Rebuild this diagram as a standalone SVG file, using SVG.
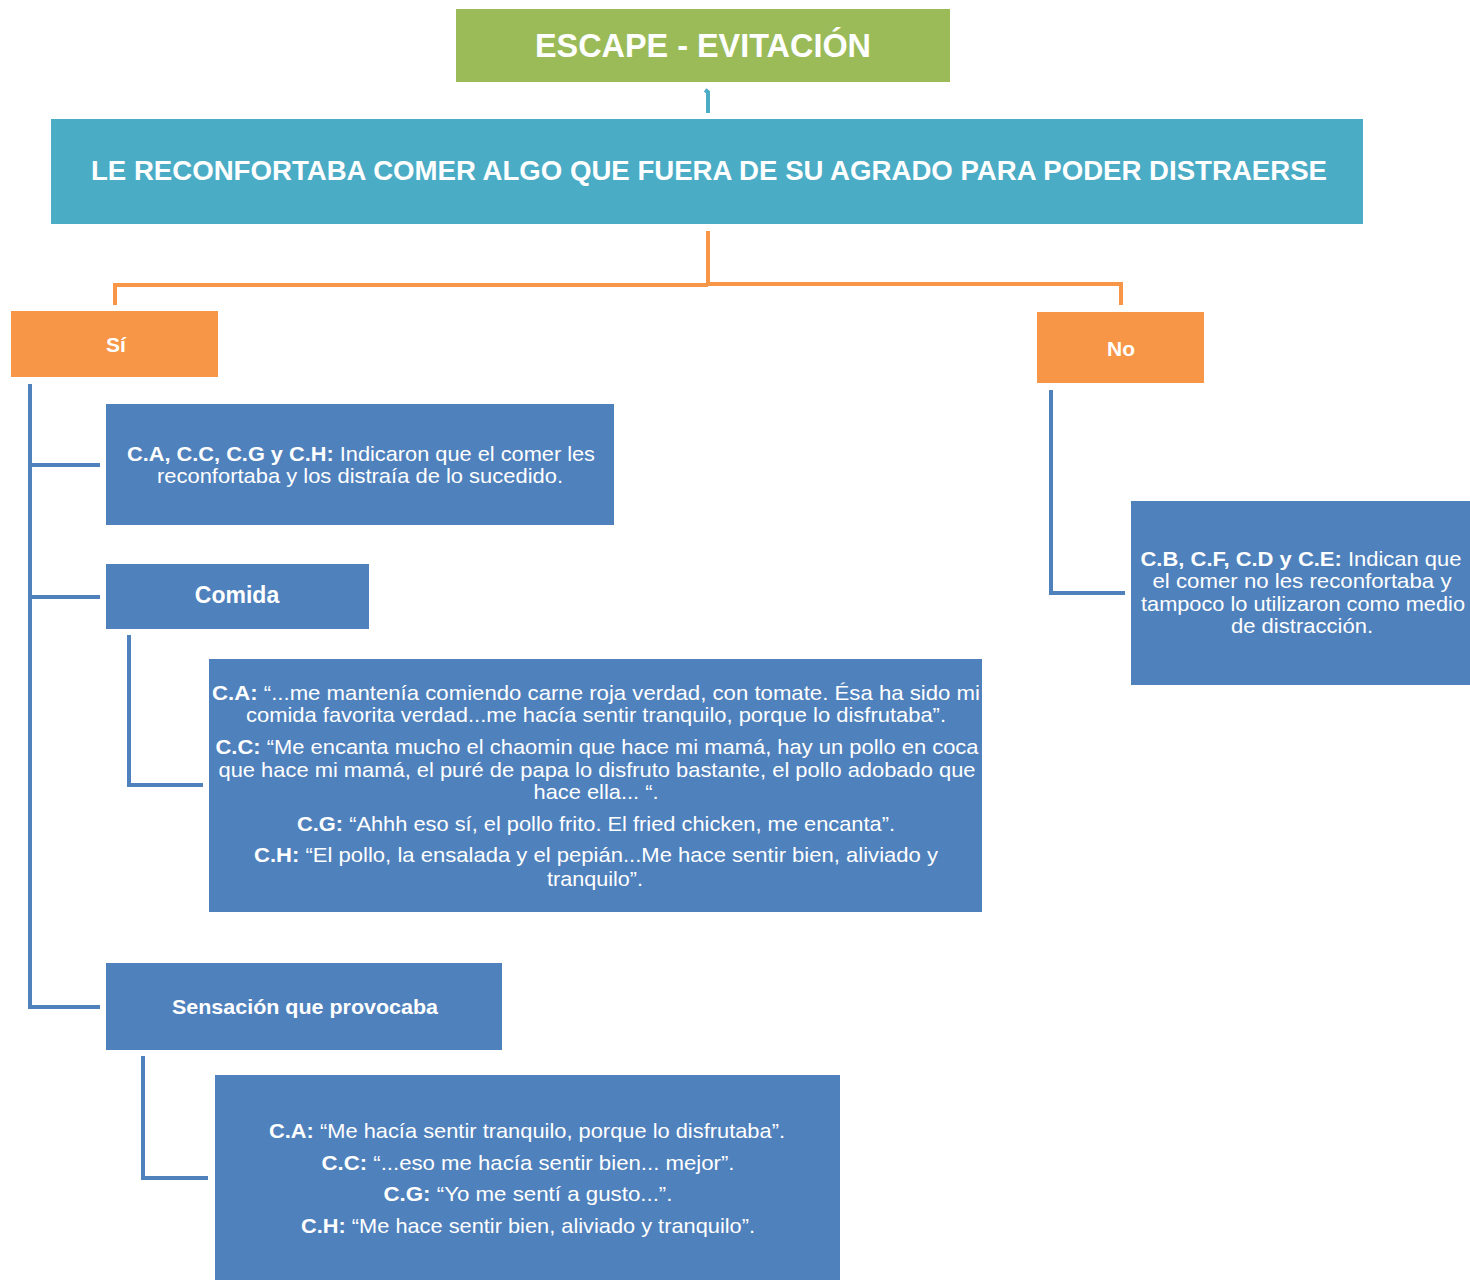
<svg xmlns="http://www.w3.org/2000/svg" width="1470" height="1280" viewBox="0 0 1470 1280">
<style>
text{font-family:"Liberation Sans",Arial,sans-serif;fill:#fff;text-anchor:middle}
.b{font-weight:bold}
.t{font-size:21px}
.blue{fill:#4F81BD}
.orange{fill:#F79646}
.cb{fill:none;stroke:#4F81BD;stroke-width:4}
.co{fill:none;stroke:#F79646;stroke-width:4}
</style>
<rect width="1470" height="1280" fill="#fff"/>
<g id="connectors">
<path d="M705,90 L708,92 L708,113" fill="none" stroke="#4BACC6" stroke-width="4"/>
<path class="co" d="M708,231 V284 M115,305 V285 H708 M708,284 H1121 V305"/>
<path class="cb" d="M30,384 V1007 H100 M30,465 H100 M30,597 H100"/>
<path class="cb" d="M129,635 V785 H203"/>
<path class="cb" d="M143,1056 V1178 H208"/>
<path class="cb" d="M1051,390 V593 H1125"/>
</g>
<g id="title">
<rect x="456" y="9" width="494" height="73" fill="#9BBB59"/>
<text x="703" y="57" class="b" font-size="33" textLength="336" lengthAdjust="spacingAndGlyphs">ESCAPE - EVITACIÓN</text>
</g>
<g id="main">
<rect x="51" y="119" width="1312" height="105" fill="#4BACC6"/>
<text x="709" y="180" class="b" font-size="27" textLength="1236" lengthAdjust="spacingAndGlyphs">LE RECONFORTABA COMER ALGO QUE FUERA DE SU AGRADO PARA PODER DISTRAERSE</text>
</g>
<g id="si">
<rect class="orange" x="11" y="311" width="207" height="66"/>
<text x="116" y="352" class="b" font-size="21">Sí</text>
</g>
<g id="no">
<rect class="orange" x="1037" y="312" width="167" height="71"/>
<text x="1121" y="356" class="b" font-size="21">No</text>
</g>
<g id="si-resumen">
<rect class="blue" x="106" y="404" width="508" height="121"/>
<text x="361" y="461" class="t" textLength="468" lengthAdjust="spacingAndGlyphs"><tspan class="b">C.A, C.C, C.G y C.H:</tspan> Indicaron que el comer les</text>
<text x="360" y="483" class="t" textLength="406" lengthAdjust="spacingAndGlyphs">reconfortaba y los distraía de lo sucedido.</text>
</g>
<g id="comida">
<rect class="blue" x="106" y="564" width="263" height="65"/>
<text x="237" y="603" class="b" font-size="23">Comida</text>
</g>
<g id="comida-citas">
<rect class="blue" x="209" y="659" width="773" height="253"/>
<text x="596" y="700" class="t" textLength="768" lengthAdjust="spacingAndGlyphs"><tspan class="b">C.A:</tspan> “...me mantenía comiendo carne roja verdad, con tomate.  Ésa ha sido mi</text>
<text x="596" y="722" class="t" textLength="700" lengthAdjust="spacingAndGlyphs">comida favorita verdad...me hacía sentir tranquilo, porque lo disfrutaba”.</text>
<text x="597" y="754" class="t" textLength="763" lengthAdjust="spacingAndGlyphs"><tspan class="b">C.C:</tspan> “Me encanta mucho el chaomin que hace mi mamá, hay un pollo en coca</text>
<text x="597" y="777" class="t" textLength="757" lengthAdjust="spacingAndGlyphs">que hace mi mamá, el puré de papa lo disfruto bastante, el pollo adobado que</text>
<text x="596" y="799" class="t" textLength="125" lengthAdjust="spacingAndGlyphs">hace ella...  “.</text>
<text x="596" y="831" class="t" textLength="598" lengthAdjust="spacingAndGlyphs"><tspan class="b">C.G:</tspan> “Ahhh eso sí, el pollo frito. El fried chicken, me encanta”.</text>
<text x="596" y="862" class="t" textLength="684" lengthAdjust="spacingAndGlyphs"><tspan class="b">C.H:</tspan> “El pollo, la ensalada y el pepián...Me hace sentir bien, aliviado y</text>
<text x="595" y="886" class="t" textLength="96" lengthAdjust="spacingAndGlyphs">tranquilo”.</text>
</g>
<g id="sensacion">
<rect class="blue" x="106" y="963" width="396" height="87"/>
<text x="305" y="1014" class="b" font-size="21" textLength="266" lengthAdjust="spacingAndGlyphs">Sensación que provocaba</text>
</g>
<g id="sensacion-citas">
<rect class="blue" x="215" y="1075" width="625" height="205"/>
<text x="527" y="1138" class="t" textLength="516" lengthAdjust="spacingAndGlyphs"><tspan class="b">C.A:</tspan> “Me hacía sentir tranquilo, porque lo disfrutaba”.</text>
<text x="528" y="1170" class="t" textLength="413" lengthAdjust="spacingAndGlyphs"><tspan class="b">C.C:</tspan> “...eso me hacía sentir bien... mejor”.</text>
<text x="528" y="1201" class="t" textLength="289" lengthAdjust="spacingAndGlyphs"><tspan class="b">C.G:</tspan> “Yo me sentí a gusto...”.</text>
<text x="528" y="1233" class="t" textLength="454" lengthAdjust="spacingAndGlyphs"><tspan class="b">C.H:</tspan> “Me hace sentir bien, aliviado y tranquilo”.</text>
</g>
<g id="no-resumen">
<rect class="blue" x="1131" y="501" width="339" height="184"/>
<text x="1301" y="566" class="t" textLength="321" lengthAdjust="spacingAndGlyphs"><tspan class="b">C.B, C.F, C.D y C.E:</tspan> Indican que</text>
<text x="1302" y="588" class="t" textLength="299" lengthAdjust="spacingAndGlyphs">el comer no les reconfortaba  y</text>
<text x="1303" y="611" class="t" textLength="324" lengthAdjust="spacingAndGlyphs">tampoco lo utilizaron  como medio</text>
<text x="1302" y="633" class="t" textLength="142" lengthAdjust="spacingAndGlyphs">de distracción.</text>
</g>
</svg>
